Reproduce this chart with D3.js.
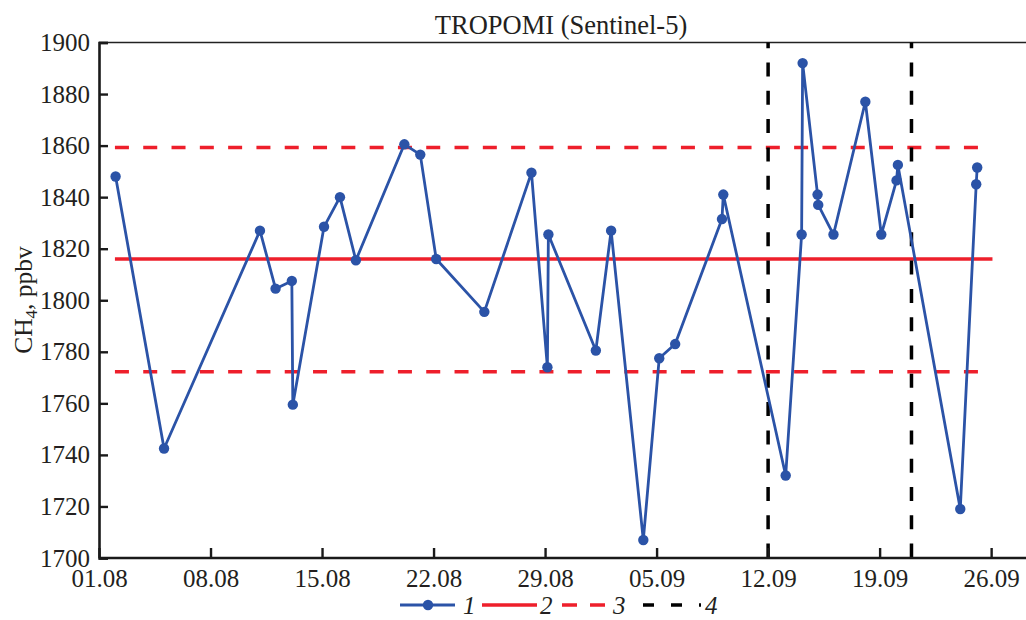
<!DOCTYPE html>
<html>
<head>
<meta charset="utf-8">
<script src="https://cdn.jsdelivr.net/npm/d3@7"></script>
<style>
  body { margin: 0; background: #fff; }
  svg { display: block; font-family: "Liberation Serif", "Times New Roman", serif; }
</style>
</head>
<body>
<div id="chart"></div>
<script>
// TROPOMI CH4 observations (UTC time of overpass)
const obsTimes = [
  "2019-08-02 01:00", "2019-08-05 02:00", "2019-08-11 02:30", "2019-08-12 02:00",
  "2019-08-13 02:30", "2019-08-13 04:00", "2019-08-15 03:00", "2019-08-16 03:00",
  "2019-08-17 03:00", "2019-08-20 04:00", "2019-08-21 04:00", "2019-08-22 04:00",
  "2019-08-25 04:30", "2019-08-28 03:30", "2019-08-29 03:30", "2019-08-29 05:00",
  "2019-09-01 04:30", "2019-09-02 03:30", "2019-09-04 04:00", "2019-09-05 04:00",
  "2019-09-06 04:00", "2019-09-09 02:30", "2019-09-09 04:30", "2019-09-13 02:30",
  "2019-09-14 02:30", "2019-09-14 04:00", "2019-09-15 02:30", "2019-09-15 03:30",
  "2019-09-16 02:30", "2019-09-18 02:30", "2019-09-19 02:30", "2019-09-20 01:30",
  "2019-09-20 03:30", "2019-09-24 01:30", "2019-09-25 01:30", "2019-09-25 03:00"
];
const ch4Values = [
  1848, 1742.5, 1827, 1804.5, 1807.5, 1759.5, 1828.5, 1840,
  1815.5, 1860.5, 1856.5, 1816, 1795.5, 1849.5, 1774, 1825.5,
  1780.5, 1827, 1707, 1777.5, 1783, 1831.5, 1841, 1732,
  1825.5, 1892, 1841, 1837, 1825.5, 1877, 1825.5, 1846.5,
  1852.5, 1719, 1845, 1851.5
];
// 2 - mean, 3 - mean +/- sigma, 4 - event period
const meanValue = 1816;
const sigmaValues = [1772.3, 1859.3];
const refSpan = ["2019-08-02 00:00", "2019-09-26 02:00"];
const eventDates = ["2019-09-12 00:00", "2019-09-21 00:00"];
const xTickDates = ["2019-08-01", "2019-08-08", "2019-08-15", "2019-08-22",
  "2019-08-29", "2019-09-05", "2019-09-12", "2019-09-19", "2019-09-26"];
const yTicks = [1700, 1720, 1740, 1760, 1780, 1800, 1820, 1840, 1860, 1880, 1900];
const legendLabels = ["1", "2", "3", "4"];

const width = 1026, height = 620;
const blue = "#2b53a7", red = "#ee1f2b";
const serif = "'Liberation Serif', 'Times New Roman', serif";

const parseTime = d3.utcParse("%Y-%m-%d %H:%M");
const parseDay = d3.utcParse("%Y-%m-%d");

const data = obsTimes.map((t, i) => ({ date: parseTime(t), value: ch4Values[i] }));

const x = d3.scaleUtc()
  .domain([parseDay("2019-08-01"), parseDay("2019-09-28")])
  .range([99, 1023]);
const y = d3.scaleLinear()
  .domain([1700, 1900])
  .range([558, 42.5]);

const svg = d3.select("#chart").append("svg")
  .attr("width", width)
  .attr("height", height)
  .attr("font-family", serif);

// top border
svg.append("line")
  .attr("x1", 99).attr("x2", width)
  .attr("y1", y(1900)).attr("y2", y(1900))
  .attr("stroke", "#222").attr("stroke-width", 1.4);

// reference lines
const refG = svg.append("g");
refG.append("line")
  .attr("x1", x(parseTime(refSpan[0]))).attr("x2", x(parseTime(refSpan[1])))
  .attr("y1", y(meanValue)).attr("y2", y(meanValue))
  .attr("stroke", red).attr("stroke-width", 3.5);

refG.selectAll(".sigma")
  .data(sigmaValues)
  .join("line")
  .attr("class", "sigma")
  .attr("x1", x(parseTime(refSpan[0]))).attr("x2", x(parseTime(refSpan[1])) - 10)
  .attr("y1", d => y(d)).attr("y2", d => y(d))
  .attr("stroke", red).attr("stroke-width", 3.5)
  .attr("stroke-dasharray", "14,14.3");

refG.selectAll(".event")
  .data(eventDates)
  .join("line")
  .attr("class", "event")
  .attr("x1", d => x(parseTime(d))).attr("x2", d => x(parseTime(d)))
  .attr("y1", y(1900)).attr("y2", y(1700))
  .attr("stroke", "#000").attr("stroke-width", 3.5)
  .attr("stroke-dasharray", "14,14.3")
  .attr("stroke-dashoffset", 8.3);

// series 1
const line = d3.line()
  .x(d => x(d.date))
  .y(d => y(d.value));

svg.append("path")
  .datum(data)
  .attr("fill", "none")
  .attr("stroke", blue)
  .attr("stroke-width", 2.8)
  .attr("stroke-linejoin", "round")
  .attr("d", line);

svg.append("g")
  .selectAll("circle")
  .data(data)
  .join("circle")
  .attr("cx", d => x(d.date))
  .attr("cy", d => y(d.value))
  .attr("r", 5.2)
  .attr("fill", blue);

// axes
const xAxis = d3.axisBottom(x)
  .tickValues(xTickDates.map(parseDay))
  .tickFormat(d3.utcFormat("%d.%m"))
  .tickSize(-10)
  .tickPadding(11);

const yAxis = d3.axisLeft(y)
  .tickValues(yTicks)
  .tickFormat(d3.format("d"))
  .tickSize(-9)
  .tickPadding(9);

const gx = svg.append("g")
  .attr("transform", `translate(0,${y(1700)})`)
  .call(xAxis);
gx.select(".domain").attr("d", `M99,0H${width}`);

const gy = svg.append("g")
  .attr("transform", "translate(99,0)")
  .call(yAxis);

[gx, gy].forEach(g => {
  g.attr("font-family", serif).attr("font-size", 25);
  g.select(".domain").attr("stroke", "#1a1a1a").attr("stroke-width", 2.6);
  g.selectAll(".tick line").attr("stroke", "#1a1a1a").attr("stroke-width", 2.4);
  g.selectAll(".tick text").attr("fill", "#231f20");
});

// title
svg.append("text")
  .attr("x", 561)
  .attr("y", 33.5)
  .attr("text-anchor", "middle")
  .attr("font-size", 26.5)
  .attr("fill", "#231f20")
  .text("TROPOMI (Sentinel-5)");

// y label
const yLabel = svg.append("text")
  .attr("transform", "translate(32,300) rotate(-90)")
  .attr("text-anchor", "middle")
  .attr("font-size", 25.5)
  .attr("fill", "#231f20");
yLabel.append("tspan").text("CH");
yLabel.append("tspan").attr("font-size", 17).attr("dy", 5).text("4");
yLabel.append("tspan").attr("dy", -5).text(", ppbv");

// legend
const legendY = 605;
const legendItems = [
  { x1: 400, x2: 455, color: blue, dash: null, marker: true, tx: 463 },
  { x1: 482, x2: 537, color: red, dash: null, marker: false, tx: 540 },
  { x1: 562, x2: 606, color: red, dash: "15,13", marker: false, tx: 613 },
  { x1: 643, x2: 701, color: "#000", dash: "11,17", marker: false, tx: 705 }
];
const lg = svg.append("g");
legendItems.forEach((d, i) => {
  lg.append("line")
    .attr("x1", d.x1).attr("x2", d.x2)
    .attr("y1", legendY).attr("y2", legendY)
    .attr("stroke", d.color)
    .attr("stroke-width", i === 0 ? 2.8 : 3.5)
    .attr("stroke-dasharray", d.dash);
  if (d.marker) {
    lg.append("circle")
      .attr("cx", (d.x1 + d.x2) / 2 + 0.5).attr("cy", legendY)
      .attr("r", 5.2).attr("fill", d.color);
  }
  lg.append("text")
    .attr("x", d.tx).attr("y", legendY + 9)
    .attr("font-size", 25)
    .attr("font-style", "italic")
    .attr("fill", "#231f20")
    .text(legendLabels[i]);
});
</script>
</body>
</html>
